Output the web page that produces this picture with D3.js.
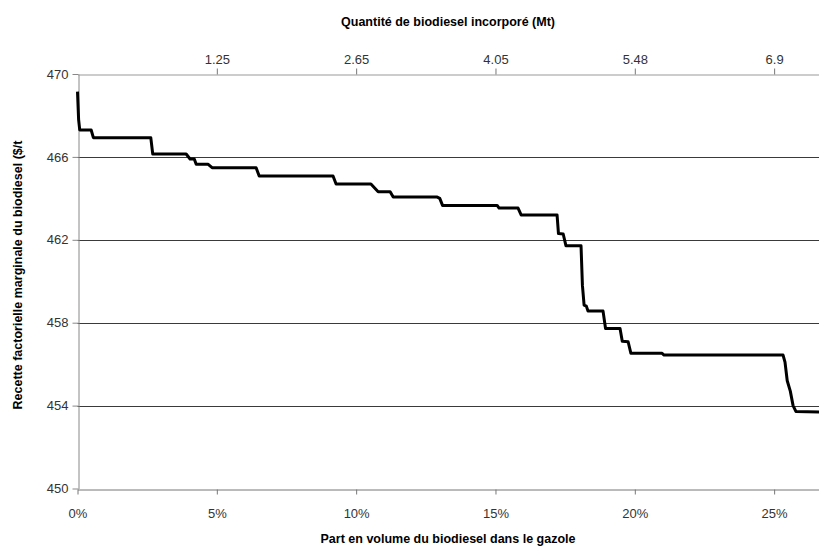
<!DOCTYPE html>
<html>
<head>
<meta charset="utf-8">
<script src="https://cdn.jsdelivr.net/npm/d3@7"></script>
<style>
    body { margin: 0; background: #ffffff; }
    svg { display: block; }
</style>
</head>
<body>
<svg id="chart_svg" width="819" height="548"></svg>
<script>
// share of biodiesel in diesel (%)
var shareValues = [0, 0.04, 0.08, 0.49, 0.57, 2.63, 2.70, 3.90, 4.04, 4.19, 4.26, 4.69, 4.83, 6.41, 6.52,
    9.17, 9.28, 10.53, 10.79, 11.22, 11.33, 12.91, 13.00, 13.10, 15.06, 15.13, 15.81, 15.92, 17.21,
    17.26, 17.43, 17.53, 18.07, 18.12, 18.18, 18.26, 18.32, 18.86, 18.95, 19.47, 19.55, 19.76, 19.86,
    20.98, 21.05, 25.32, 25.39, 25.47, 25.58, 25.68, 25.78, 26.61];
// marginal factor revenue ($/t)
var revenueValues = [469.15, 467.8, 467.3, 467.3, 466.93, 466.93, 466.14, 466.14, 465.9, 465.9, 465.64, 465.64, 465.48, 465.48, 465.08,
    465.08, 464.69, 464.69, 464.32, 464.32, 464.06, 464.06, 464.0, 463.66, 463.66, 463.53, 463.53, 463.2, 463.2,
    462.3, 462.28, 461.71, 461.71, 459.8, 458.85, 458.8, 458.56, 458.56, 457.72, 457.72, 457.1, 457.08, 456.52,
    456.52, 456.44, 456.44, 456.1, 455.2, 454.7, 454.0, 453.72, 453.69];

var yTicks = [450, 454, 458, 462, 466, 470];
var shareTicks = [0, 5, 10, 15, 20, 25];
var quantityTickShares = [5, 10, 15, 20, 25];
var quantityLabels = ['1.25', '2.65', '4.05', '5.48', '6.9'];

document.addEventListener('DOMContentLoaded', function () {
    drawStepChart();
});

function drawStepChart() {
    const svg = d3.select('#chart_svg');
    const font = "'Liberation Sans', Arial, sans-serif";

    var x = d3.scaleLinear().domain([0, 26.61]).range([77.5, 819]);
    var y = d3.scaleLinear().domain([450, 470]).range([488.5, 74]);

    // horizontal gridlines (470 and 450 are the axis lines)
    svg.append('g').selectAll('line')
        .data(yTicks.filter(d => d != 450 && d != 470))
        .enter()
        .append('line')
        .attr('x1', x(0)).attr('x2', 819)
        .attr('y1', d => Math.round(y(d)) + 0.5)
        .attr('y2', d => Math.round(y(d)) + 0.5)
        .attr('stroke', '#3a3a3a')
        .attr('stroke-width', 1);

    // left axis
    var gl = svg.append('g')
        .attr('transform', 'translate(' + (Math.round(x(0)) + 0.5) + ',0)')
        .call(d3.axisLeft(y).tickValues(yTicks).tickSize(6).tickSizeOuter(0).tickPadding(4));
    gl.select('.domain').attr('stroke', '#888');
    gl.selectAll('.tick line').attr('stroke', '#888');
    gl.selectAll('text').attr('font-family', font).attr('font-size', 13).attr('fill', '#333');

    // bottom axis
    var gb = svg.append('g')
        .attr('transform', 'translate(0,' + (Math.round(y(450)) + 0.5) + ')')
        .call(d3.axisBottom(x).tickValues(shareTicks).tickFormat(d => d + '%').tickSize(5).tickSizeOuter(0).tickPadding(14));
    gb.select('.domain').attr('stroke', '#777');
    gb.selectAll('.tick line').attr('stroke', '#777');
    gb.selectAll('text').attr('font-family', font).attr('font-size', 13).attr('fill', '#333');

    // top axis (quantity in Mt)
    var gt = svg.append('g')
        .attr('transform', 'translate(0,' + (Math.round(y(470)) + 0.5) + ')')
        .call(d3.axisTop(x).tickValues(quantityTickShares).tickFormat((d, i) => quantityLabels[i]).tickSize(6).tickSizeOuter(0).tickPadding(5));
    gt.select('.domain').attr('stroke', '#999');
    gt.selectAll('.tick line').attr('stroke', '#777');
    gt.selectAll('text').attr('font-family', font).attr('font-size', 13).attr('fill', '#333');

    // the curve
    var pts = shareValues.map((s, i) => [s, revenueValues[i]]);
    var line = d3.line()
        .x(d => x(d[0]))
        .y(d => y(d[1]));
    svg.append('path')
        .datum(pts)
        .attr('d', line)
        .attr('fill', 'none')
        .attr('stroke', '#000')
        .attr('stroke-width', 3)
        .attr('stroke-linejoin', 'round');

    // titles
    svg.append('text')
        .attr('x', 448).attr('y', 26)
        .attr('text-anchor', 'middle')
        .attr('font-family', font).attr('font-size', 12.5).attr('font-weight', 'bold')
        .text('Quantité de biodiesel incorporé (Mt)');
    svg.append('text')
        .attr('x', 448).attr('y', 543)
        .attr('text-anchor', 'middle')
        .attr('font-family', font).attr('font-size', 12.5).attr('font-weight', 'bold')
        .text('Part en volume du biodiesel dans le gazole');
    svg.append('text')
        .attr('transform', 'translate(22,275) rotate(-90)')
        .attr('text-anchor', 'middle')
        .attr('font-family', font).attr('font-size', 12.5).attr('font-weight', 'bold')
        .text('Recette factorielle marginale du biodiesel ($/t');
}
</script>
</body>
</html>
